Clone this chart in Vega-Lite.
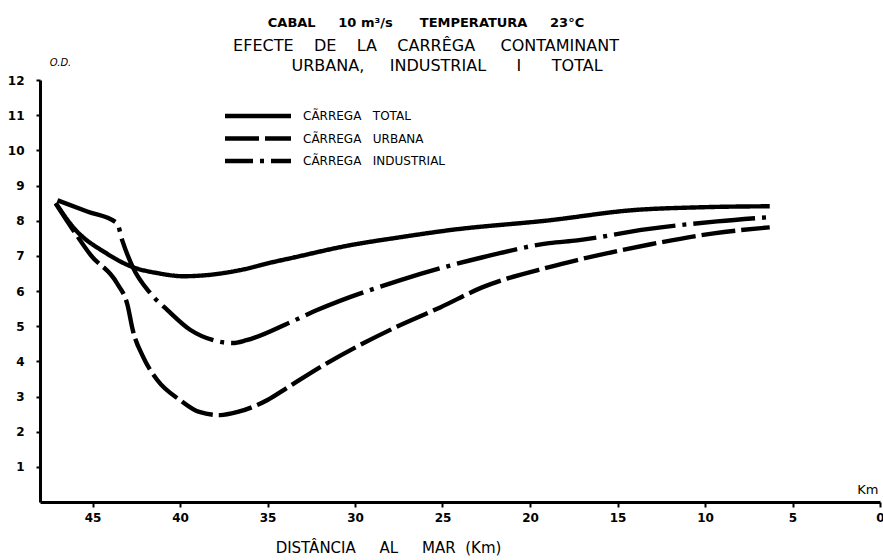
{
  "$schema": "https://vega.github.io/schema/vega-lite/v6.json",
  "autosize": "none",
  "padding": {"left": 40, "top": 80, "right": 3, "bottom": 58},
  "width": 840,
  "height": 422,
  "background": "white",
  "config": {"font": "DejaVu Sans", "view": {"stroke": null}},
  "title": {
    "text": "CABAL\u00a0\u00a0\u00a0\u00a0\u00a010 m³/s\u00a0\u00a0\u00a0\u00a0\u00a0\u00a0TEMPERATURA\u00a0\u00a0\u00a0\u00a0\u00a023°C",
    "subtitle": "EFECTE\u00a0\u00a0\u00a0\u00a0DE\u00a0\u00a0\u00a0\u00a0LA\u00a0\u00a0\u00a0\u00a0CARRÊGA\u00a0\u00a0\u00a0\u00a0\u00a0CONTAMINANT",
    "anchor": "middle",
    "frame": "group",
    "dx": -34,
    "offset": 3,
    "font": "DejaVu Sans",
    "fontSize": 13,
    "fontWeight": "bold",
    "color": "black",
    "subtitleFont": "DejaVu Sans",
    "subtitleFontSize": 16,
    "subtitleColor": "black",
    "subtitleLineHeight": 21,
    "subtitlePadding": 8
  },
  "data": {
    "values": [
      {"serie": "CÃRREGA TOTAL", "km": 47.1, "od": 8.5},
      {"serie": "CÃRREGA TOTAL", "km": 46.1, "od": 7.81},
      {"serie": "CÃRREGA TOTAL", "km": 44.2, "od": 7.07},
      {"serie": "CÃRREGA TOTAL", "km": 42.7, "od": 6.68},
      {"serie": "CÃRREGA TOTAL", "km": 41.3, "od": 6.51},
      {"serie": "CÃRREGA TOTAL", "km": 39.8, "od": 6.42},
      {"serie": "CÃRREGA TOTAL", "km": 38.5, "od": 6.45},
      {"serie": "CÃRREGA TOTAL", "km": 36.6, "od": 6.59},
      {"serie": "CÃRREGA TOTAL", "km": 34.7, "od": 6.82},
      {"serie": "CÃRREGA TOTAL", "km": 33.7, "od": 6.93},
      {"serie": "CÃRREGA TOTAL", "km": 30.3, "od": 7.3},
      {"serie": "CÃRREGA TOTAL", "km": 27.4, "od": 7.53},
      {"serie": "CÃRREGA TOTAL", "km": 24.6, "od": 7.73},
      {"serie": "CÃRREGA TOTAL", "km": 18.9, "od": 8.01},
      {"serie": "CÃRREGA TOTAL", "km": 14.1, "od": 8.3},
      {"serie": "CÃRREGA TOTAL", "km": 10.3, "od": 8.38},
      {"serie": "CÃRREGA TOTAL", "km": 6.3, "od": 8.41},
      {"serie": "CÃRREGA URBANA", "km": 47.1, "od": 8.49},
      {"serie": "CÃRREGA URBANA", "km": 46.1, "od": 7.73},
      {"serie": "CÃRREGA URBANA", "km": 45.1, "od": 7.02},
      {"serie": "CÃRREGA URBANA", "km": 43.6, "od": 6.22},
      {"serie": "CÃRREGA URBANA", "km": 43.0, "od": 5.6},
      {"serie": "CÃRREGA URBANA", "km": 42.7, "od": 4.89},
      {"serie": "CÃRREGA URBANA", "km": 42.1, "od": 4.12},
      {"serie": "CÃRREGA URBANA", "km": 41.3, "od": 3.47},
      {"serie": "CÃRREGA URBANA", "km": 40.0, "od": 2.9},
      {"serie": "CÃRREGA URBANA", "km": 38.9, "od": 2.56},
      {"serie": "CÃRREGA URBANA", "km": 37.7, "od": 2.47},
      {"serie": "CÃRREGA URBANA", "km": 36.7, "od": 2.56},
      {"serie": "CÃRREGA URBANA", "km": 35.0, "od": 2.9},
      {"serie": "CÃRREGA URBANA", "km": 33.9, "od": 3.24},
      {"serie": "CÃRREGA URBANA", "km": 31.8, "od": 3.89},
      {"serie": "CÃRREGA URBANA", "km": 27.8, "od": 4.94},
      {"serie": "CÃRREGA URBANA", "km": 25.1, "od": 5.54},
      {"serie": "CÃRREGA URBANA", "km": 22.7, "od": 6.11},
      {"serie": "CÃRREGA URBANA", "km": 18.9, "od": 6.68},
      {"serie": "CÃRREGA URBANA", "km": 17.3, "od": 6.88},
      {"serie": "CÃRREGA URBANA", "km": 13.1, "od": 7.33},
      {"serie": "CÃRREGA URBANA", "km": 9.5, "od": 7.64},
      {"serie": "CÃRREGA URBANA", "km": 6.3, "od": 7.81},
      {"serie": "CÃRREGA INDUSTRIAL", "km": 47.0, "od": 8.58},
      {"serie": "CÃRREGA INDUSTRIAL", "km": 45.3, "od": 8.26},
      {"serie": "CÃRREGA INDUSTRIAL", "km": 43.6, "od": 7.93},
      {"serie": "CÃRREGA INDUSTRIAL", "km": 43.3, "od": 7.44},
      {"serie": "CÃRREGA INDUSTRIAL", "km": 42.7, "od": 6.68},
      {"serie": "CÃRREGA INDUSTRIAL", "km": 41.7, "od": 5.94},
      {"serie": "CÃRREGA INDUSTRIAL", "km": 40.7, "od": 5.45},
      {"serie": "CÃRREGA INDUSTRIAL", "km": 39.4, "od": 4.89},
      {"serie": "CÃRREGA INDUSTRIAL", "km": 38.1, "od": 4.6},
      {"serie": "CÃRREGA INDUSTRIAL", "km": 37.0, "od": 4.52},
      {"serie": "CÃRREGA INDUSTRIAL", "km": 36.2, "od": 4.6},
      {"serie": "CÃRREGA INDUSTRIAL", "km": 33.7, "od": 5.11},
      {"serie": "CÃRREGA INDUSTRIAL", "km": 32.2, "od": 5.45},
      {"serie": "CÃRREGA INDUSTRIAL", "km": 27.4, "od": 6.31},
      {"serie": "CÃRREGA INDUSTRIAL", "km": 22.7, "od": 6.96},
      {"serie": "CÃRREGA INDUSTRIAL", "km": 18.9, "od": 7.36},
      {"serie": "CÃRREGA INDUSTRIAL", "km": 17.3, "od": 7.44},
      {"serie": "CÃRREGA INDUSTRIAL", "km": 13.3, "od": 7.76},
      {"serie": "CÃRREGA INDUSTRIAL", "km": 9.3, "od": 7.98},
      {"serie": "CÃRREGA INDUSTRIAL", "km": 6.3, "od": 8.1}
    ]
  },
  "resolve": {"scale": {"strokeDash": "independent"}, "legend": {"strokeDash": "independent"}},
  "layer": [
    {
      "mark": {"type": "line", "color": "black", "strokeWidth": 4.4, "interpolate": "monotone"},
      "encoding": {
        "x": {
          "field": "km", "type": "quantitative",
          "scale": {"domain": [0, 48], "reverse": true, "nice": false},
          "axis": {
            "values": [45, 40, 35, 30, 25, 20, 15, 10, 5, 0],
            "tickCount": 30,
            "format": "d",
            "title": "DISTÂNCIA\u00a0\u00a0\u00a0\u00a0\u00a0AL\u00a0\u00a0\u00a0\u00a0\u00a0MAR\u00a0\u00a0(Km)",
            "titleX": 348, "titleY": 45, "titleAlign": "center", "titleBaseline": "middle",
            "titleFont": "DejaVu Sans", "titleFontSize": 15, "titleFontWeight": "normal", "titleColor": "black",
            "grid": false, "domainColor": "black", "domainWidth": 3, "tickColor": "black", "tickWidth": 2, "tickSize": 5,
            "labelFont": "DejaVu Sans", "labelFontSize": 12, "labelFontWeight": "bold", "labelColor": "black", "labelPadding": 5, "labelFlush": false, "labelOverlap": false
          }
        },
        "y": {
          "field": "od", "type": "quantitative",
          "scale": {"domain": [0, 12], "nice": false},
          "axis": {
            "values": [1, 2, 3, 4, 5, 6, 7, 8, 9, 10, 11, 12],
            "tickCount": 30,
            "format": "d",
            "title": "O.D.", "titleAngle": 0, "titleX": 20, "titleY": -18, "titleAlign": "center", "titleBaseline": "middle",
            "titleFont": "DejaVu Sans", "titleFontSize": 10, "titleFontStyle": "italic", "titleFontWeight": "normal", "titleColor": "black",
            "grid": false, "domainColor": "black", "domainWidth": 3, "tickColor": "black", "tickWidth": 2, "tickSize": 4,
            "labelFont": "DejaVu Sans", "labelFontSize": 12, "labelFontWeight": "bold", "labelColor": "black", "labelPadding": 12, "labelOverlap": false
          }
        },
        "strokeDash": {
          "field": "serie", "type": "nominal",
          "scale": {
            "domain": ["CÃRREGA TOTAL", "CÃRREGA URBANA", "CÃRREGA INDUSTRIAL"],
            "range": [[1, 0], [34, 6], [62, 7, 4, 7]]
          },
          "legend": null
        }
      }
    },
    {
      "mark": {"type": "line", "color": "black", "strokeWidth": 4.4, "opacity": 0},
      "encoding": {
        "x": {"field": "km", "type": "quantitative"},
        "y": {"field": "od", "type": "quantitative"},
        "strokeDash": {
          "field": "serie", "type": "nominal",
          "scale": {
            "domain": ["CÃRREGA TOTAL", "CÃRREGA URBANA", "CÃRREGA INDUSTRIAL"],
            "range": [[1, 0], [34, 6], [28, 7, 4, 7]]
          },
          "legend": {
            "title": null,
            "orient": "none",
            "legendX": 177,
            "legendY": 28,
            "symbolType": "M0,0H12",
            "symbolSize": 121,
            "symbolStrokeWidth": 4.5,
            "symbolStrokeColor": "black",
            "symbolOpacity": 1,
            "labelFont": "DejaVu Sans",
            "labelFontSize": 12,
            "labelColor": "black",
            "labelOffset": 70,
            "labelExpr": "replace(datum.label, ' ', '\u00a0\u00a0\u00a0')",
            "rowPadding": 4.5
          }
        }
      }
    },
    {
      "data": {"values": [{"label": "Km"}]},
      "mark": {"type": "text", "font": "DejaVu Sans", "fontSize": 13, "color": "black", "align": "center", "baseline": "middle"},
      "encoding": {
        "text": {"field": "label"},
        "x": {"datum": 0.7, "type": "quantitative"},
        "y": {"datum": 0.35, "type": "quantitative"}
      }
    },
    {
      "data": {"values": [{"label": "URBANA,\u00a0\u00a0\u00a0\u00a0\u00a0INDUSTRIAL\u00a0\u00a0\u00a0\u00a0\u00a0\u00a0I\u00a0\u00a0\u00a0\u00a0\u00a0\u00a0TOTAL"}]},
      "mark": {"type": "text", "font": "DejaVu Sans", "fontSize": 16, "color": "black", "align": "center", "baseline": "middle"},
      "encoding": {
        "text": {"field": "label"},
        "x": {"datum": 24.74, "type": "quantitative"},
        "y": {"datum": 12.4, "type": "quantitative"}
      }
    }
  ]
}
